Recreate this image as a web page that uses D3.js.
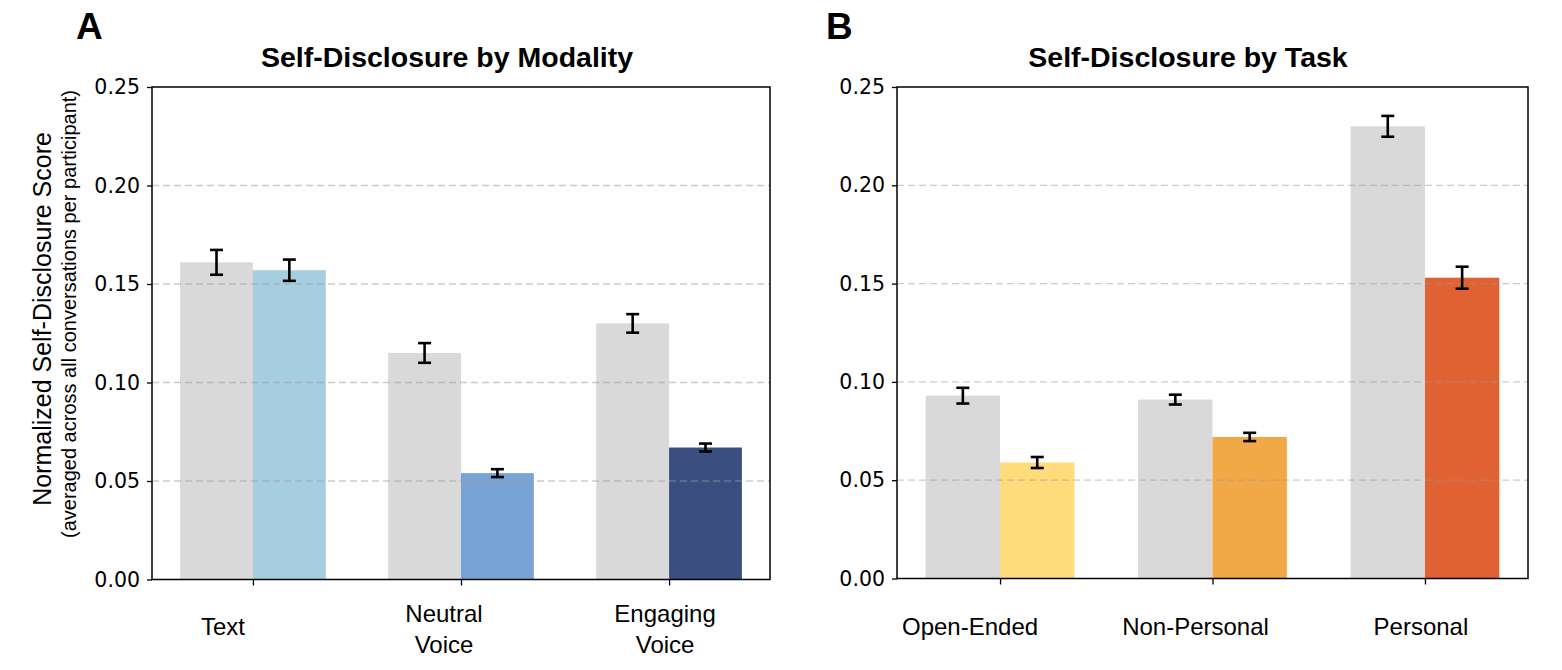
<!DOCTYPE html>
<html>
<head>
<meta charset="utf-8">
<script src="https://cdn.jsdelivr.net/npm/d3@7"></script>
<style>
  body { margin: 0; background: #fff; }
  .tick text { font-family: "DejaVu Sans", sans-serif; }
</style>
</head>
<body>
<div id="chart"></div>
<script>
// Panel A data: self-disclosure by modality
const modalities = ['Text', 'Neutral\nVoice', 'Engaging\nVoice'];
const modalityBaseline = [0.161, 0.115, 0.130];
const modalityBaselineErr = [0.0063, 0.0050, 0.0047];
const modalityScore = [0.157, 0.054, 0.067];
const modalityScoreErr = [0.0054, 0.0020, 0.0020];
const modalityColors = ['#a6cde0', '#78a3d6', '#3a4f80'];

// Panel B data: self-disclosure by task
const tasks = ['Open-Ended', 'Non-Personal', 'Personal'];
const taskBaseline = [0.093, 0.091, 0.230];
const taskBaselineErr = [0.0040, 0.0025, 0.0053];
const taskScore = [0.059, 0.072, 0.153];
const taskScoreErr = [0.0028, 0.0021, 0.0056];
const taskColors = ['#fedc7c', '#f0a946', '#e06131'];

const yTicks = [0, 0.05, 0.10, 0.15, 0.20, 0.25];
const gridTicks = [0.05, 0.10, 0.15, 0.20];
const baselineColor = '#d9d9d9';

const width = 1562;
const height = 670;
const barWidth = 0.35;
const labelFont = 'Liberation Sans, Arial, sans-serif';

const svg = d3.select('#chart')
    .append('svg')
    .attr('width', width)
    .attr('height', height)
    .attr('viewBox', `0 0 ${width} ${height}`);

svg.append('rect').attr('width', width).attr('height', height).attr('fill', '#fff');

function drawPanel(opts) {
    const x = d3.scaleLinear().domain([-0.485, 2.485]).range([opts.left, opts.right]);
    const y = d3.scaleLinear().domain([0, 0.25]).range([opts.bottom, opts.top]);
    const g = svg.append('g');

    // bars: grey baseline on the left, coloured on the right
    const rows = opts.categories.map((c, i) => ({
        i,
        base: opts.baseline[i], baseErr: opts.baselineErr[i],
        score: opts.score[i], scoreErr: opts.scoreErr[i],
        color: opts.colors[i]
    }));

    g.selectAll('.bar-base').data(rows).enter().append('rect')
        .attr('x', d => x(d.i - barWidth))
        .attr('y', d => y(d.base))
        .attr('width', d => x(d.i) - x(d.i - barWidth))
        .attr('height', d => y(0) - y(d.base))
        .attr('fill', baselineColor);

    g.selectAll('.bar-score').data(rows).enter().append('rect')
        .attr('x', d => x(d.i))
        .attr('y', d => y(d.score))
        .attr('width', d => x(d.i + barWidth) - x(d.i))
        .attr('height', d => y(0) - y(d.score))
        .attr('fill', d => d.color);

    // grid on top of bars
    g.selectAll('.grid').data(gridTicks).enter().append('line')
        .attr('x1', opts.left).attr('x2', opts.right)
        .attr('y1', d => y(d)).attr('y2', d => y(d))
        .attr('stroke', '#999')
        .attr('stroke-opacity', 0.5)
        .attr('stroke-width', 1.3)
        .attr('stroke-dasharray', '7,4');

    // error bars
    const errs = [];
    rows.forEach(d => {
        errs.push({ cx: d.i - barWidth / 2, v: d.base, e: d.baseErr });
        errs.push({ cx: d.i + barWidth / 2, v: d.score, e: d.scoreErr });
    });
    const eg = g.selectAll('.err').data(errs).enter().append('g')
        .attr('stroke', '#000').attr('stroke-width', 2.6);
    eg.append('line')
        .attr('x1', d => x(d.cx)).attr('x2', d => x(d.cx))
        .attr('y1', d => y(d.v - d.e)).attr('y2', d => y(d.v + d.e));
    eg.append('line')
        .attr('x1', d => x(d.cx) - 6.5).attr('x2', d => x(d.cx) + 6.5)
        .attr('y1', d => y(d.v - d.e)).attr('y2', d => y(d.v - d.e));
    eg.append('line')
        .attr('x1', d => x(d.cx) - 6.5).attr('x2', d => x(d.cx) + 6.5)
        .attr('y1', d => y(d.v + d.e)).attr('y2', d => y(d.v + d.e));

    // axes
    const yAxis = g.append('g')
        .attr('transform', `translate(${opts.left},0)`)
        .call(d3.axisLeft(y).tickValues(yTicks).tickFormat(d3.format('.2f')).tickSize(5).tickPadding(7));
    yAxis.select('.domain').remove();
    yAxis.selectAll('.tick line').attr('stroke-width', 1.3);
    yAxis.selectAll('.tick text').attr('font-size', 20.5).attr('fill', '#000');

    const xAxis = g.append('g')
        .attr('transform', `translate(0,${opts.bottom})`)
        .call(d3.axisBottom(x).tickValues([0, 1, 2]).tickFormat('').tickSize(6));
    xAxis.select('.domain').remove();
    xAxis.selectAll('.tick line').attr('stroke-width', 1.3);

    // frame
    g.append('rect')
        .attr('x', opts.left).attr('y', opts.top)
        .attr('width', opts.right - opts.left).attr('height', opts.bottom - opts.top)
        .attr('fill', 'none').attr('stroke', '#000').attr('stroke-width', 1.5);

    // category labels (sit slightly left of the ticks, as in the source figure)
    opts.categories.forEach((c, i) => {
        const lines = c.split('\n');
        const cx = x(i) - 30 + 13 * i;
        const lh = 31;
        const firstBase = lines.length > 1 ? 622 : 635;
        lines.forEach((ln, k) => {
            g.append('text')
                .attr('x', cx)
                .attr('y', firstBase + k * lh)
                .attr('text-anchor', 'middle')
                .attr('font-family', labelFont)
                .attr('font-size', 24)
                .text(ln);
        });
    });

    // title and panel letter
    g.append('text')
        .attr('x', opts.titleX).attr('y', 67)
        .attr('text-anchor', 'middle')
        .attr('font-family', labelFont)
        .attr('font-weight', 'bold')
        .attr('font-size', 28.5)
        .text(opts.title);

    g.append('text')
        .attr('x', opts.letterX).attr('y', 39)
        .attr('font-family', labelFont)
        .attr('font-weight', 'bold')
        .attr('font-size', 37)
        .text(opts.letter);
}

drawPanel({
    left: 152, right: 770, top: 87, bottom: 579.5,
    categories: modalities,
    baseline: modalityBaseline, baselineErr: modalityBaselineErr,
    score: modalityScore, scoreErr: modalityScoreErr,
    colors: modalityColors,
    title: 'Self-Disclosure by Modality', titleX: 447,
    letter: 'A', letterX: 76
});

drawPanel({
    left: 897, right: 1528, top: 87, bottom: 578.5,
    categories: tasks,
    baseline: taskBaseline, baselineErr: taskBaselineErr,
    score: taskScore, scoreErr: taskScoreErr,
    colors: taskColors,
    title: 'Self-Disclosure by Task', titleX: 1188,
    letter: 'B', letterX: 826
});

// y axis label (two lines)
svg.append('text')
    .attr('transform', 'translate(51,319) rotate(-90)')
    .attr('text-anchor', 'middle')
    .attr('font-family', labelFont)
    .attr('font-size', 25)
    .text('Normalized Self-Disclosure Score');

svg.append('text')
    .attr('transform', 'translate(76,314) rotate(-90)')
    .attr('text-anchor', 'middle')
    .attr('font-family', labelFont)
    .attr('font-size', 20)
    .text('(averaged across all conversations per participant)');
</script>
</body>
</html>
